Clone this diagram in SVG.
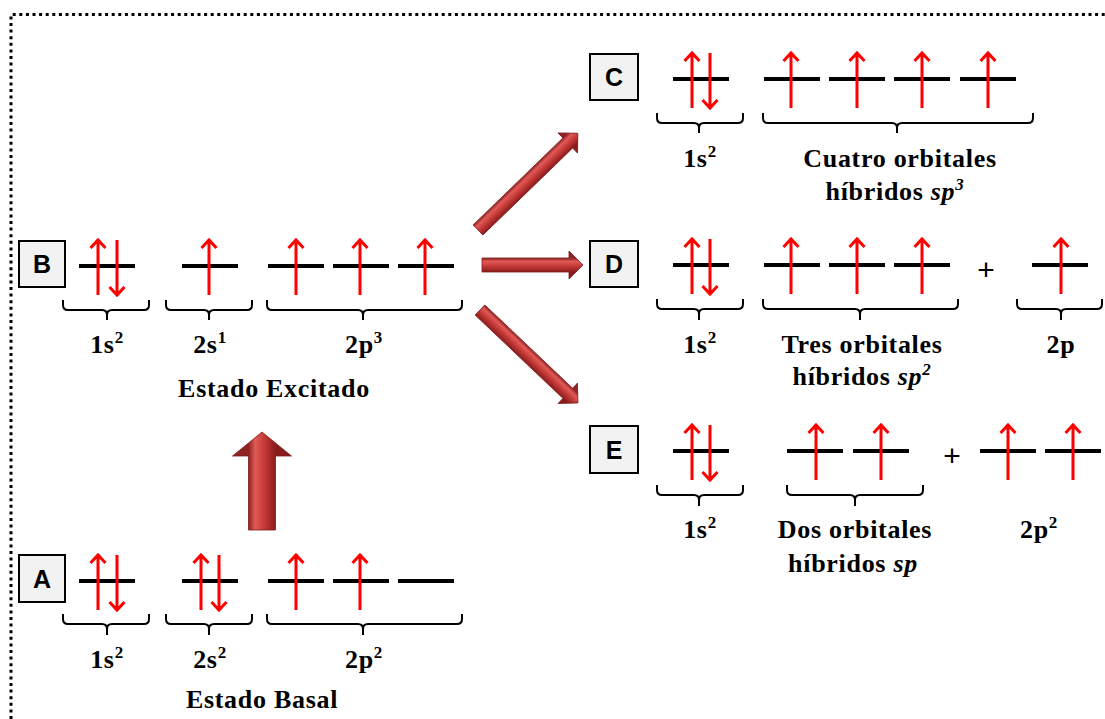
<svg xmlns="http://www.w3.org/2000/svg" xmlns:xlink="http://www.w3.org/1999/xlink" width="1105" height="719" viewBox="0 0 1105 719">
  <style>
    .frame { fill: none; stroke: #000; stroke-width: 3; stroke-dasharray: 3 3.6; }
    .orb { stroke: #000; stroke-width: 4; }
    .brace { fill: none; stroke: #000; stroke-width: 2; stroke-linejoin: round; }
    .tag rect { fill: #f2f2f2; stroke: #000; stroke-width: 2; }
    .tag text { font-family: "Liberation Sans", Arial, sans-serif; font-weight: bold; font-size: 25px; text-anchor: middle; fill: #000; }
    .lbl { font-family: "Liberation Serif", "Times New Roman", serif; font-weight: bold; font-size: 26px; letter-spacing: 0.7px; text-anchor: middle; fill: #000; }
    .sup { font-size: 17px; }
    .plus { font-family: "Liberation Sans", Arial, sans-serif; font-size: 30px; text-anchor: middle; fill: #000; }
    .big { stroke: #7e1a1a; stroke-width: 0.8; }
  </style>
  <defs>
    <!-- electron spin arrows, anchored on the orbital line -->
    <g id="eu"><path d="M0,29 V-26 M-7.5,-18 L0,-26 L7.5,-18" fill="none" stroke="#ff0000" stroke-width="3"/></g>
    <g id="ed"><path d="M0,-26 V29 M-7.5,21 L0,29 L7.5,21" fill="none" stroke="#ff0000" stroke-width="3"/></g>
    <!-- shading across the shaft of the block arrows -->
    <linearGradient id="gSmall" gradientUnits="userSpaceOnUse" x1="0" y1="-7" x2="0" y2="7">
      <stop offset="0" stop-color="#8f2222"/>
      <stop offset="0.25" stop-color="#e05a57"/>
      <stop offset="0.55" stop-color="#c83c3a"/>
      <stop offset="1" stop-color="#8a1c1c"/>
    </linearGradient>
    <linearGradient id="gBig" gradientUnits="userSpaceOnUse" x1="0" y1="-13.5" x2="0" y2="13.5">
      <stop offset="0" stop-color="#8f2222"/>
      <stop offset="0.25" stop-color="#e05a57"/>
      <stop offset="0.55" stop-color="#c83c3a"/>
      <stop offset="1" stop-color="#8a1c1c"/>
    </linearGradient>
  </defs>

  <!-- dotted frame -->
  <path class="frame" d="M11,719 V14.5 H1105"/>

  <!-- transition arrows -->
  <g id="connectors">
    <polygon class="big" fill="url(#gBig)" transform="translate(262,530) rotate(-90)" points="0,-13.5 74,-13.5 74,-29.5 98,0 74,29.5 74,13.5 0,13.5"/>
    <polygon class="big" fill="url(#gSmall)" transform="translate(482,265)" points="0,-7 87,-7 87,-14 101,0 87,14 87,7 0,7"/>
    <polygon class="big" fill="url(#gSmall)" transform="translate(478,230) rotate(-44.1)" points="0,-7 125,-7 125,-14 139,0 125,14 125,7 0,7"/>
    <polygon class="big" fill="url(#gSmall)" transform="translate(480,310) rotate(43.5)" points="0,-7 121,-7 121,-14 135,0 121,14 121,7 0,7"/>
  </g>

  <!-- A: ground state -->
  <g id="nodeA">
    <g class="tag"><rect x="19" y="555" width="46" height="47"/><text x="42" y="587.5">A</text></g>
    <line class="orb" x1="79" y1="581" x2="135" y2="581"/>
    <line class="orb" x1="182" y1="581" x2="238" y2="581"/>
    <line class="orb" x1="268" y1="581" x2="324" y2="581"/>
    <line class="orb" x1="333" y1="581" x2="389" y2="581"/>
    <line class="orb" x1="398" y1="581" x2="454" y2="581"/>
    <use xlink:href="#eu" x="98" y="581"/><use xlink:href="#ed" x="117" y="581"/>
    <use xlink:href="#eu" x="201" y="581"/><use xlink:href="#ed" x="219" y="581"/>
    <use xlink:href="#eu" x="296" y="581"/><use xlink:href="#eu" x="360" y="581"/>
    <path class="brace" d="M63,614 V619 Q63,624 68,624 H102 Q107,624 107,629 V635 M107,629 Q107,624 112,624 H144 Q149,624 149,619 V614"/>
    <path class="brace" d="M166,614 V619 Q166,624 171,624 H204 Q209,624 209,629 V635 M209,629 Q209,624 214,624 H247 Q252,624 252,619 V614"/>
    <path class="brace" d="M267,614 V619 Q267,624 272,624 H358 Q363,624 363,629 V635 M363,629 Q363,624 368,624 H457 Q462,624 462,619 V614"/>
    <text class="lbl" x="107" y="668">1s<tspan class="sup" dy="-10">2</tspan></text>
    <text class="lbl" x="210" y="668">2s<tspan class="sup" dy="-10">2</tspan></text>
    <text class="lbl" x="364" y="668">2p<tspan class="sup" dy="-10">2</tspan></text>
    <text class="lbl" x="262" y="708">Estado Basal</text>
  </g>

  <!-- B: excited state -->
  <g id="nodeB">
    <g class="tag"><rect x="19" y="241" width="46" height="46"/><text x="42" y="273">B</text></g>
    <line class="orb" x1="79" y1="266" x2="135" y2="266"/>
    <line class="orb" x1="182" y1="266" x2="238" y2="266"/>
    <line class="orb" x1="268" y1="266" x2="324" y2="266"/>
    <line class="orb" x1="333" y1="266" x2="389" y2="266"/>
    <line class="orb" x1="398" y1="266" x2="454" y2="266"/>
    <use xlink:href="#eu" x="98" y="266"/><use xlink:href="#ed" x="117" y="266"/>
    <use xlink:href="#eu" x="209" y="266"/>
    <use xlink:href="#eu" x="296" y="266"/><use xlink:href="#eu" x="360" y="266"/><use xlink:href="#eu" x="425" y="266"/>
    <path class="brace" d="M63,300 V305 Q63,310 68,310 H102 Q107,310 107,315 V320 M107,315 Q107,310 112,310 H144 Q149,310 149,305 V300"/>
    <path class="brace" d="M166,300 V305 Q166,310 171,310 H204 Q209,310 209,315 V320 M209,315 Q209,310 214,310 H247 Q252,310 252,305 V300"/>
    <path class="brace" d="M267,300 V305 Q267,310 272,310 H358 Q363,310 363,315 V320 M363,315 Q363,310 368,310 H457 Q462,310 462,305 V300"/>
    <text class="lbl" x="107" y="353">1s<tspan class="sup" dy="-10">2</tspan></text>
    <text class="lbl" x="210" y="353">2s<tspan class="sup" dy="-10">1</tspan></text>
    <text class="lbl" x="364" y="353">2p<tspan class="sup" dy="-10">3</tspan></text>
    <text class="lbl" x="274" y="397">Estado Excitado</text>
  </g>

  <!-- C: sp3 -->
  <g id="nodeC">
    <g class="tag"><rect x="590" y="54" width="48" height="46"/><text x="614" y="86">C</text></g>
    <line class="orb" x1="673" y1="79" x2="729" y2="79"/>
    <line class="orb" x1="764" y1="79" x2="820" y2="79"/>
    <line class="orb" x1="829" y1="79" x2="885" y2="79"/>
    <line class="orb" x1="894" y1="79" x2="950" y2="79"/>
    <line class="orb" x1="960" y1="79" x2="1016" y2="79"/>
    <use xlink:href="#eu" x="692" y="79"/><use xlink:href="#ed" x="710" y="79"/>
    <use xlink:href="#eu" x="791" y="79"/><use xlink:href="#eu" x="857" y="79"/><use xlink:href="#eu" x="922" y="79"/><use xlink:href="#eu" x="988" y="79"/>
    <path class="brace" d="M657,113 V118 Q657,123 662,123 H694 Q699,123 699,128 V133 M699,128 Q699,123 704,123 H738 Q743,123 743,118 V113"/>
    <path class="brace" d="M763,113 V118 Q763,123 768,123 H892 Q897,123 897,128 V133 M897,128 Q897,123 902,123 H1028 Q1033,123 1033,118 V113"/>
    <text class="lbl" x="700" y="167">1s<tspan class="sup" dy="-10">2</tspan></text>
    <text class="lbl" x="900" y="167">Cuatro orbitales</text>
    <text class="lbl" x="895" y="200">híbridos <tspan font-style="italic">sp</tspan><tspan class="sup" font-style="italic" dy="-10">3</tspan></text>
  </g>

  <!-- D: sp2 + p -->
  <g id="nodeD">
    <g class="tag"><rect x="590" y="241" width="48" height="46"/><text x="614" y="273">D</text></g>
    <line class="orb" x1="673" y1="265" x2="729" y2="265"/>
    <line class="orb" x1="764" y1="265" x2="820" y2="265"/>
    <line class="orb" x1="829" y1="265" x2="885" y2="265"/>
    <line class="orb" x1="894" y1="265" x2="950" y2="265"/>
    <line class="orb" x1="1032" y1="265" x2="1088" y2="265"/>
    <use xlink:href="#eu" x="692" y="265"/><use xlink:href="#ed" x="710" y="265"/>
    <use xlink:href="#eu" x="791" y="265"/><use xlink:href="#eu" x="857" y="265"/><use xlink:href="#eu" x="922" y="265"/>
    <use xlink:href="#eu" x="1061" y="265"/>
    <text class="plus" x="986" y="280">+</text>
    <path class="brace" d="M657,299 V304 Q657,309 662,309 H694 Q699,309 699,314 V320 M699,314 Q699,309 704,309 H738 Q743,309 743,304 V299"/>
    <path class="brace" d="M763,299 V304 Q763,309 768,309 H855 Q860,309 860,314 V320 M860,314 Q860,309 865,309 H953 Q958,309 958,304 V299"/>
    <path class="brace" d="M1017,299 V304 Q1017,309 1022,309 H1056 Q1061,309 1061,314 V320 M1061,314 Q1061,309 1066,309 H1097 Q1102,309 1102,304 V299"/>
    <text class="lbl" x="700" y="353">1s<tspan class="sup" dy="-10">2</tspan></text>
    <text class="lbl" x="862" y="353">Tres orbitales</text>
    <text class="lbl" x="862" y="385">híbridos <tspan font-style="italic">sp</tspan><tspan class="sup" font-style="italic" dy="-10">2</tspan></text>
    <text class="lbl" x="1061" y="353">2p</text>
  </g>

  <!-- E: sp + 2p -->
  <g id="nodeE">
    <g class="tag"><rect x="590" y="426" width="48" height="47"/><text x="614" y="458.5">E</text></g>
    <line class="orb" x1="673" y1="451" x2="729" y2="451"/>
    <line class="orb" x1="787" y1="451" x2="843" y2="451"/>
    <line class="orb" x1="853" y1="451" x2="909" y2="451"/>
    <line class="orb" x1="980" y1="451" x2="1036" y2="451"/>
    <line class="orb" x1="1045" y1="451" x2="1101" y2="451"/>
    <use xlink:href="#eu" x="692" y="451"/><use xlink:href="#ed" x="710" y="451"/>
    <use xlink:href="#eu" x="816" y="451"/><use xlink:href="#eu" x="881" y="451"/>
    <use xlink:href="#eu" x="1008" y="451"/><use xlink:href="#eu" x="1073" y="451"/>
    <text class="plus" x="952" y="466">+</text>
    <path class="brace" d="M657,485 V490 Q657,495 662,495 H694 Q699,495 699,500 V506 M699,500 Q699,495 704,495 H738 Q743,495 743,490 V485"/>
    <path class="brace" d="M787,485 V490 Q787,495 792,495 H850 Q855,495 855,500 V506 M855,500 Q855,495 860,495 H918 Q923,495 923,490 V485"/>
    <text class="lbl" x="700" y="538">1s<tspan class="sup" dy="-10">2</tspan></text>
    <text class="lbl" x="855" y="538">Dos orbitales</text>
    <text class="lbl" x="853" y="572">híbridos <tspan font-style="italic">sp</tspan></text>
    <text class="lbl" x="1039" y="538">2p<tspan class="sup" dy="-10">2</tspan></text>
  </g>
</svg>
